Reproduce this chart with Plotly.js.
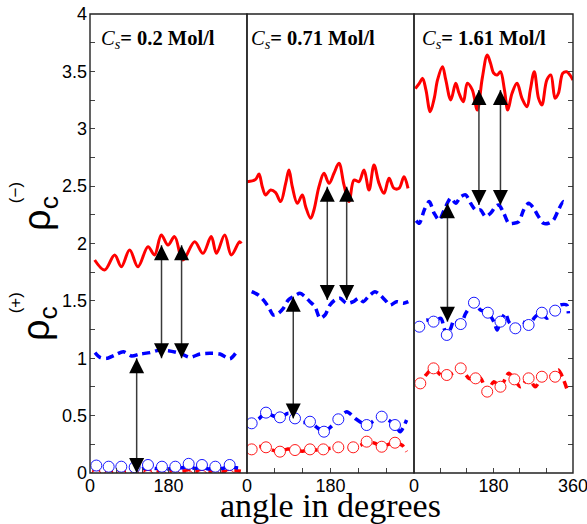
<!DOCTYPE html>
<html>
<head>
<meta charset="utf-8">
<script src="https://cdn.plot.ly/plotly-3.0.1.min.js"></script>
<style>html,body{margin:0;padding:0;background:#fff;}#chart{width:587px;height:524px;}</style>
</head>
<body>
<div id="chart"></div>
<script>
// ---------- axis ticks ----------
const angleTicksA = [0, 180];
const angleTicksB = [0, 180, 360];
const angleMinorStep = 60;
const rhoTicks = [0, 0.5, 1, 1.5, 2, 2.5, 3, 3.5, 4];
const rhoLabels = ['0', '0.5', '1', '1.5', '2', '2.5', '3', '3.5', '4'];
const rhoMinorStep = 0.25;
const panelLabels = ['0.2', '0.71', '1.61'];

// ---------- panel 1 : Cs = 0.2 ----------
const p1RedX = [10.7, 33.6, 56.5, 71.8, 90.9, 110, 133, 148, 163.5, 178.9, 194, 213, 240, 259, 278, 290, 309, 324, 343, 347];
const p1RedY = [1.856, 1.769, 1.900, 1.798, 1.943, 1.798, 1.972, 1.900, 2.074, 1.987, 2.06, 1.856, 2.016, 1.914, 2.06, 1.914, 2.074, 1.90, 2.016, 2.0];
const p1BlueX = [11.5, 22.9, 38.2, 57.3, 76.4, 95.5, 114.6, 137.6, 160.5, 179.6, 206.4, 229.3, 252.2, 275.2, 298.1, 321, 336.4];
const p1BlueY = [1.049, 1.008, 0.999, 1.028, 1.057, 1.02, 1.037, 1.049, 1.072, 1.066, 1.043, 1.008, 1.037, 1.043, 1.037, 0.996, 1.057];
const p1LowX = [5, 14.5, 28, 42.8, 57, 71.8, 87, 102.4, 118, 133, 149, 165, 180, 195.7, 211, 226.3, 241, 256.8, 272, 287.4, 303, 320.3, 335, 346];
const p1BlueLowY = [0.045, 0.055, 0.035, 0.05, 0.03, 0.05, 0.04, 0.05, 0.035, 0.055, 0.04, 0.05, 0.035, 0.05, 0.045, 0.06, 0.04, 0.055, 0.035, 0.05, 0.04, 0.055, 0.045, 0.04];
const p1RedLowY = [0.02, 0.015, 0.02, 0.01, 0.018, 0.012, 0.02, 0.015, 0.022, 0.012, 0.018, 0.015, 0.02, 0.01, 0.018, 0.02, 0.012, 0.018, 0.015, 0.02, 0.012, 0.018, 0.02, 0.015];
const p1CircX = [14.5, 42.8, 71.8, 102.4, 133, 165, 195.7, 226.3, 256.8, 287.4, 320.3];
const p1BlueCircY = [0.065, 0.055, 0.055, 0.05, 0.07, 0.055, 0.055, 0.08, 0.07, 0.055, 0.07];
const p1RedCircY = [-0.025, -0.03, -0.025, -0.03, -0.025, -0.03, -0.025, -0.03, -0.025, -0.03, -0.025];
const p1ArrowX = [107, 164, 210];
const p1ArrowTop = [1.0, 1.985, 1.985];
const p1ArrowBottom = [0.0, 1.0, 1.0];

// ---------- panel 2 : Cs = 0.71 ----------
const p2RedX = [0.7, 18.7, 25.9, 33.0, 40.2, 51.0, 61.8, 72.6, 83.4, 90.5, 97.7, 108.5, 119.3, 126.5, 137.3, 144.4, 155.2, 166, 176.8, 187.5, 198.3, 209.1, 219.9, 230.7, 241.4, 252.2, 263, 273.8, 284.6, 295.4, 306.2, 316.9, 327.7, 338.5, 347.1];
const p2RedY = [2.539, 2.559, 2.606, 2.495, 2.423, 2.466, 2.443, 2.365, 2.524, 2.641, 2.495, 2.350, 2.423, 2.321, 2.219, 2.292, 2.495, 2.612, 2.524, 2.612, 2.699, 2.510, 2.365, 2.553, 2.539, 2.641, 2.466, 2.684, 2.524, 2.437, 2.568, 2.481, 2.481, 2.582, 2.481];
const p2BlueX = [10.1, 24.5, 35.2, 46.0, 56.8, 67.6, 78.3, 89.1, 99.9, 114.3, 125, 135.8, 146.6, 157.4, 168.1, 178.9, 189.7, 200.5, 214.9, 229.2, 240, 250.7, 261.5, 275.9, 286.7, 297.5, 308.3, 322.7, 337, 347.8];
const p2BlueY = [1.580, 1.551, 1.508, 1.449, 1.377, 1.392, 1.435, 1.508, 1.537, 1.566, 1.537, 1.493, 1.449, 1.348, 1.377, 1.464, 1.508, 1.522, 1.479, 1.493, 1.522, 1.493, 1.537, 1.580, 1.551, 1.508, 1.464, 1.493, 1.479, 1.493];
const p2BlueLowX = [0, 10.1, 25, 41, 55, 71.1, 90, 103.5, 120, 135.8, 150, 166, 180, 196.9, 215, 235, 258, 275, 290.4, 305, 319, 330, 344];
const p2BlueLowY = [0.43, 0.433, 0.47, 0.526, 0.50, 0.485, 0.52, 0.476, 0.44, 0.447, 0.40, 0.36, 0.40, 0.468, 0.534, 0.47, 0.418, 0.46, 0.491, 0.46, 0.418, 0.36, 0.462];
const p2BlueCircX = [10.1, 41, 71.1, 103.5, 135.8, 166, 196.9, 258, 290.4, 319];
const p2BlueCircY = [0.433, 0.526, 0.485, 0.476, 0.447, 0.36, 0.468, 0.418, 0.491, 0.418];
const p2RedLowX = [0, 10.1, 25, 41, 55, 71.1, 88, 103.5, 120, 135.8, 150, 164.5, 180, 196.9, 212, 229, 244, 258, 275, 290.4, 305, 319, 335, 344];
const p2RedLowY = [0.2, 0.206, 0.23, 0.224, 0.2, 0.186, 0.21, 0.2, 0.19, 0.206, 0.2, 0.206, 0.215, 0.224, 0.205, 0.224, 0.24, 0.273, 0.26, 0.229, 0.25, 0.264, 0.24, 0.186];
const p2RedCircX = [10.1, 41, 71.1, 103.5, 135.8, 164.5, 196.9, 229, 258, 290.4, 319];
const p2RedCircY = [0.206, 0.224, 0.186, 0.2, 0.206, 0.206, 0.224, 0.224, 0.273, 0.229, 0.264];
const p2ArrowX = [99.8, 173.1, 214.9];
const p2ArrowTop = [1.537, 2.495, 2.495];
const p2ArrowBottom = [0.476, 1.508, 1.508];

// ---------- panel 3 : Cs = 1.61 ----------
const p3RedX = [3, 12.0, 19.5, 27, 36.8, 45.8, 53.3, 64.5, 72, 83.3, 94.5, 102, 111.8, 120.8, 132, 143.3, 154.5, 165.8, 173.3, 180.8, 188.3, 195.8, 204.8, 212.3, 222, 233.3, 244.5, 255.8, 263.3, 272.3, 282, 289.5, 300.8, 309.8, 319.5, 327, 336.8, 345.8, 353.3, 360];
const p3RedY = [3.35, 3.396, 3.439, 3.338, 3.149, 3.265, 3.425, 3.541, 3.425, 3.251, 3.396, 3.309, 3.236, 3.396, 3.338, 3.163, 3.439, 3.643, 3.570, 3.483, 3.468, 3.497, 3.338, 3.163, 3.309, 3.396, 3.265, 3.192, 3.338, 3.497, 3.265, 3.207, 3.425, 3.468, 3.265, 3.309, 3.483, 3.497, 3.468, 3.425];
const p3BlueX = [5, 12.0, 23.3, 34.5, 45.75, 57, 68.3, 83.3, 94.5, 105.8, 117, 128.3, 139.5, 150.8, 162, 173.3, 184.5, 192, 203.3, 214.5, 225.8, 237, 248.3, 259.5, 270.8, 282, 293.3, 304.5, 315.8, 327, 338.3, 345.8];
const p3BlueY = [2.2, 2.176, 2.292, 2.365, 2.263, 2.205, 2.292, 2.394, 2.350, 2.408, 2.423, 2.350, 2.292, 2.292, 2.234, 2.263, 2.321, 2.336, 2.263, 2.176, 2.176, 2.190, 2.292, 2.350, 2.307, 2.234, 2.176, 2.176, 2.205, 2.292, 2.365, 2.336];
const p3BlueLowX = [5, 12.0, 27, 44.25, 60.75, 68.25, 74.25, 83.25, 90.75, 105.75, 117, 135.75, 150.75, 167.25, 180.75, 188.25, 195.75, 207, 214.5, 229.5, 244.5, 259.5, 274.5, 289.5, 300.75, 319.5, 330.75, 345.75, 349.5];
const p3BlueLowY = [1.27, 1.275, 1.333, 1.319, 1.348, 1.261, 1.203, 1.261, 1.333, 1.298, 1.391, 1.484, 1.420, 1.397, 1.319, 1.246, 1.319, 1.391, 1.319, 1.261, 1.319, 1.290, 1.362, 1.397, 1.348, 1.415, 1.464, 1.464, 1.391];
const p3BlueCircX = [12.0, 44.25, 74.25, 105.75, 135.75, 167.25, 195.75, 229.5, 259.5, 289.5, 319.5];
const p3BlueCircY = [1.275, 1.319, 1.203, 1.298, 1.484, 1.397, 1.319, 1.261, 1.290, 1.397, 1.415];
const p3RedLowX = [5, 14.25, 27, 44.25, 60.75, 74.25, 87, 105.75, 124.5, 139.5, 150.75, 165.75, 180.75, 195.75, 214.5, 227.25, 240.75, 259.5, 274.5, 289.5, 300.75, 319.5, 327, 345.75];
const p3RedLowY = [0.77, 0.781, 0.854, 0.912, 0.854, 0.854, 0.869, 0.912, 0.825, 0.825, 0.825, 0.709, 0.796, 0.752, 0.869, 0.816, 0.752, 0.825, 0.752, 0.839, 0.869, 0.839, 0.898, 0.738];
const p3RedCircX = [14.25, 44.25, 74.25, 105.75, 139.5, 165.75, 195.75, 227.25, 259.5, 289.5, 319.5];
const p3RedCircY = [0.781, 0.912, 0.854, 0.912, 0.825, 0.709, 0.752, 0.816, 0.825, 0.839, 0.839];
const p3ArrowX = [75.75, 147, 195.75];
const p3ArrowTop = [2.35, 3.338, 3.338];
const p3ArrowBottom = [1.319, 2.336, 2.336];

// ---------- styling ----------
const RED = '#ff0000', BLUE = '#0000ff', ARROW = '#3a3a3a';

function solid(xa, ya, X, Y, c) {
  return {x: X, y: Y, xaxis: xa, yaxis: ya, type: 'scatter', mode: 'lines', hoverinfo: 'skip',
          line: {color: c, width: 3, shape: 'spline', smoothing: 1}};
}
function dashed(xa, ya, X, Y, c) {
  return {x: X, y: Y, xaxis: xa, yaxis: ya, type: 'scatter', mode: 'lines', hoverinfo: 'skip',
          line: {color: c, width: 3.5, dash: '8px,5px', shape: 'spline', smoothing: 0.8}};
}
function circles(xa, ya, X, Y, c) {
  return {x: X, y: Y, xaxis: xa, yaxis: ya, type: 'scatter', mode: 'markers', hoverinfo: 'skip',
          marker: {symbol: 'circle', size: 11, color: 'rgba(255,255,255,1)', line: {color: c, width: 0.9}}};
}
function arrows(xa, ya, X, top, bottom) {
  const lx = [], ly = [];
  X.forEach((v, i) => { lx.push(v, v, null); ly.push(bottom[i], top[i], null); });
  return [
    {x: lx, y: ly, xaxis: xa, yaxis: ya, type: 'scatter', mode: 'lines', hoverinfo: 'skip',
     line: {color: ARROW, width: 1.5}},
    {x: X, y: top, xaxis: xa, yaxis: ya, type: 'scatter', mode: 'markers', hoverinfo: 'skip',
     marker: {symbol: 'arrow-up', size: 15, color: '#000', line: {width: 0}}},
    {x: X, y: bottom, xaxis: xa, yaxis: ya, type: 'scatter', mode: 'markers', hoverinfo: 'skip',
     marker: {symbol: 'arrow-down', size: 15, color: '#000', line: {width: 0}}}
  ];
}

const traces = [
  solid('x', 'y', p1RedX, p1RedY, RED),
  dashed('x', 'y', p1BlueX, p1BlueY, BLUE),
  dashed('x', 'y', p1LowX, p1RedLowY, RED),
  circles('x', 'y', p1CircX, p1RedCircY, RED),
  dashed('x', 'y', p1LowX, p1BlueLowY, BLUE),
  circles('x', 'y', p1CircX, p1BlueCircY, BLUE),
  ...arrows('x', 'y', p1ArrowX, p1ArrowTop, p1ArrowBottom),

  solid('x2', 'y', p2RedX, p2RedY, RED),
  dashed('x2', 'y', p2BlueX, p2BlueY, BLUE),
  dashed('x2', 'y', p2RedLowX, p2RedLowY, RED),
  circles('x2', 'y', p2RedCircX, p2RedCircY, RED),
  dashed('x2', 'y', p2BlueLowX, p2BlueLowY, BLUE),
  circles('x2', 'y', p2BlueCircX, p2BlueCircY, BLUE),
  ...arrows('x2', 'y', p2ArrowX, p2ArrowTop, p2ArrowBottom),

  solid('x3', 'y2', p3RedX, p3RedY, RED),
  dashed('x3', 'y2', p3BlueX, p3BlueY, BLUE),
  dashed('x3', 'y2', p3RedLowX, p3RedLowY, RED),
  circles('x3', 'y2', p3RedCircX, p3RedCircY, RED),
  dashed('x3', 'y2', p3BlueLowX, p3BlueLowY, BLUE),
  circles('x3', 'y2', p3BlueCircX, p3BlueCircY, BLUE),
  ...arrows('x3', 'y2', p3ArrowX, p3ArrowTop, p3ArrowBottom)
];

const tickFont = {family: 'Liberation Sans, Arial, sans-serif', size: 18, color: '#000'};
function xAxis(domain, vals, anchor) {
  return {domain: domain, anchor: anchor, range: [0, 360], tickmode: 'array', tickvals: vals,
          ticktext: vals.map(String),
          ticks: 'inside', ticklen: 5, tickwidth: 1, tickcolor: '#444', showgrid: false, zeroline: false,
          minor: {dtick: angleMinorStep, tick0: 0, ticks: 'inside', ticklen: 5, tickwidth: 1, tickcolor: '#444', showgrid: false},
          showline: false, tickfont: tickFont, ticklabelstandoff: 0, ticklabeloverflow: 'allow', fixedrange: true};
}

const frameShapes = ['x', 'x2', 'x3'].map(a => ({
  type: 'rect', xref: a + ' domain', yref: 'paper', x0: 0, x1: 1, y0: 0, y1: 1,
  line: {color: '#222', width: 1.4}, fillcolor: 'rgba(0,0,0,0)', layer: 'above'
}));

const serif = 'Liberation Serif, Times New Roman, serif';
const labelAnn = ['x', 'x2', 'x3'].map((a, i) => ({
  xref: a + ' domain', yref: 'paper', x: [0.06, 0.015, 0.035][i], y: 0.945, xanchor: 'left', yanchor: 'middle',
  showarrow: false, font: {family: serif, size: 20.5, color: '#000'},
  text: '<i>C<sub>s</sub></i><b>= ' + panelLabels[i] + ' Mol/l</b>'
}));

const sans = 'Liberation Sans, Arial, sans-serif';
const annotations = labelAnn.concat([
  {xref: 'paper', yref: 'paper', x: -0.105, y: 0.565, xanchor: 'center', yanchor: 'middle', textangle: -90,
   showarrow: false, font: {family: sans, size: 38, color: '#000'}, text: 'ρ<sub>c</sub>'},
  {xref: 'paper', yref: 'paper', x: -0.155, y: 0.61, xanchor: 'center', yanchor: 'middle', textangle: -90,
   showarrow: false, font: {family: sans, size: 17, color: '#000'}, text: '(−)'},
  {xref: 'paper', yref: 'paper', x: -0.105, y: 0.325, xanchor: 'center', yanchor: 'middle', textangle: -90,
   showarrow: false, font: {family: sans, size: 38, color: '#000'}, text: 'ρ<sub>c</sub>'},
  {xref: 'paper', yref: 'paper', x: -0.155, y: 0.37, xanchor: 'center', yanchor: 'middle', textangle: -90,
   showarrow: false, font: {family: sans, size: 17, color: '#000'}, text: '(+)'},
  {xref: 'paper', yref: 'paper', x: 0.497, y: -0.071, xanchor: 'center', yanchor: 'middle',
   showarrow: false, font: {family: serif, size: 34, color: '#000'}, text: 'angle in degrees'}
]);

const yBase = {range: [0, 4], tickmode: 'array', tickvals: rhoTicks, ticktext: rhoLabels, ticks: 'inside', ticklen: 5,
               tickwidth: 1, tickcolor: '#444', showgrid: false, zeroline: false, showline: false, fixedrange: true,
               minor: {dtick: rhoMinorStep, tick0: 0, ticks: 'inside', ticklen: 5, tickwidth: 1, tickcolor: '#444', showgrid: false}};

const layout = {
  width: 587, height: 524,
  margin: {l: 90, r: 14, t: 14, b: 51},
  paper_bgcolor: '#fff', plot_bgcolor: '#fff',
  showlegend: false,
  xaxis: xAxis([0, 0.325], angleTicksA, 'y'),
  xaxis2: xAxis([0.325, 0.6708], angleTicksA, 'y'),
  xaxis3: xAxis([0.6708, 1], angleTicksB, 'y2'),
  yaxis: Object.assign({}, yBase, {anchor: 'x', side: 'left', tickfont: tickFont, ticklabelstandoff: 2}),
  yaxis2: Object.assign({}, yBase, {anchor: 'x3', side: 'right', overlaying: 'y', showticklabels: false}),
  shapes: frameShapes,
  annotations: annotations
};

Plotly.newPlot('chart', traces, layout, {staticPlot: true, displayModeBar: false});
</script>
</body>
</html>
